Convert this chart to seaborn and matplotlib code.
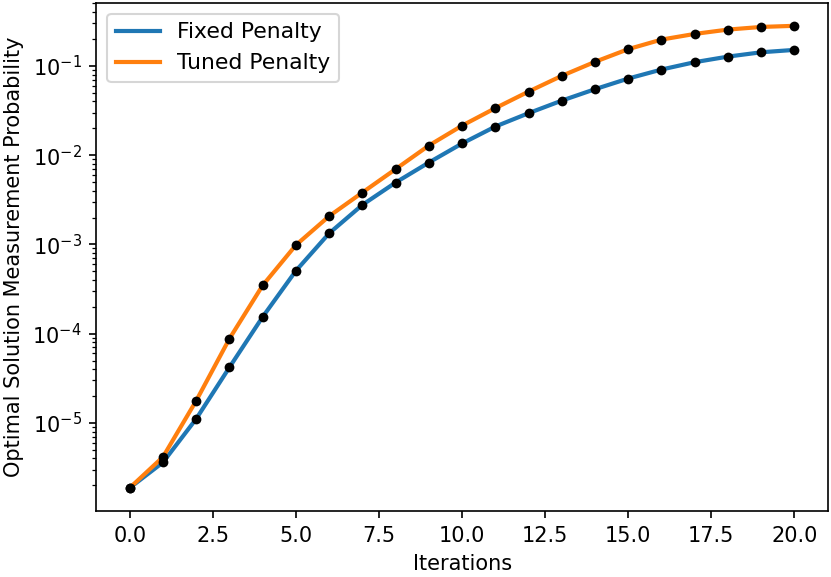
import matplotlib

matplotlib.use("Agg")
import matplotlib.pyplot as plt
import pandas as pd
import seaborn as sns

ITERATIONS = list(range(21))
FIXED_PENALTY = [
    1.87e-6, 3.61e-6, 1.11e-5, 4.19e-5, 1.54e-4, 5.06e-4, 1.33e-3, 2.77e-3,
    4.93e-3, 8.26e-3, 1.35e-2, 2.09e-2, 2.95e-2, 4.08e-2, 5.48e-2, 7.21e-2,
    9.10e-2, 0.110, 0.127, 0.142, 0.151,
]
TUNED_PENALTY = [
    1.87e-6, 4.15e-6, 1.77e-5, 8.77e-5, 3.47e-4, 9.82e-4, 2.07e-3, 3.81e-3,
    6.97e-3, 1.28e-2, 2.14e-2, 3.36e-2, 5.15e-2, 7.73e-2, 0.111, 0.154,
    0.197, 0.228, 0.255, 0.273, 0.281,
]
SERIES = {"Fixed Penalty": FIXED_PENALTY, "Tuned Penalty": TUNED_PENALTY}
COLORS = {"Fixed Penalty": "#1f77b4", "Tuned Penalty": "#ff7f0e"}


def main() -> None:
    df = pd.DataFrame(
        [
            {"iteration": it, "prob": p, "method": name}
            for name, values in SERIES.items()
            for it, p in zip(ITERATIONS, values)
        ]
    )

    fig, ax = plt.subplots(figsize=(831 / 150, 577 / 150), dpi=150)
    fig.subplots_adjust(left=0.1161, right=0.9960, bottom=0.1144, top=0.9953)

    sns.lineplot(
        data=df,
        x="iteration",
        y="prob",
        hue="method",
        palette=COLORS,
        linewidth=2,
        ax=ax,
    )
    sns.scatterplot(
        data=df,
        x="iteration",
        y="prob",
        color="black",
        s=22,
        linewidth=0,
        legend=False,
        zorder=3,
        ax=ax,
    )

    ax.set_yscale("log")
    ax.set_xlabel("Iterations")
    ax.set_ylabel("Optimal Solution Measurement Probability")
    ax.legend(title=None, loc="upper left", fontsize=10.5)

    fig.savefig("out.png", dpi=150)
    plt.close(fig)


if __name__ == "__main__":
    main()
